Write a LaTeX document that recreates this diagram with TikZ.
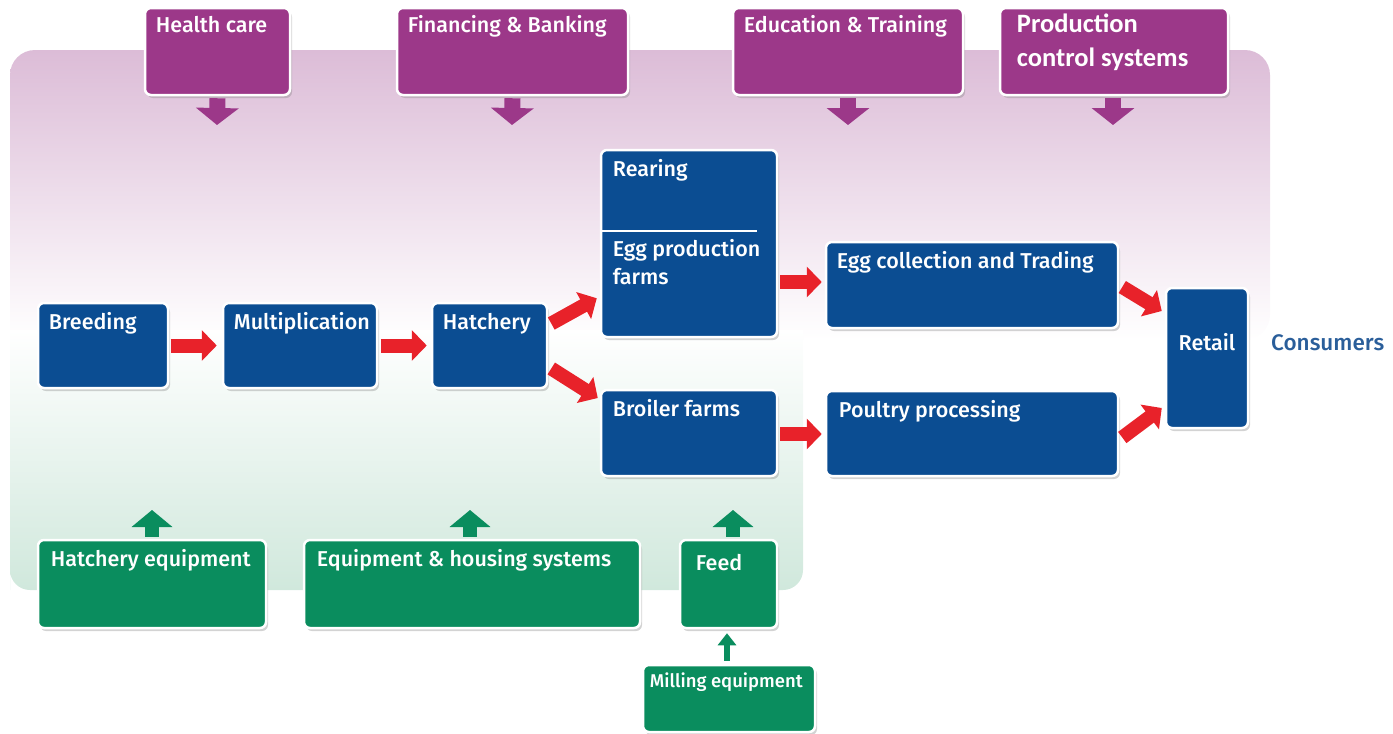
\documentclass[tikz,border=0pt]{standalone}
\usepackage{fontspec}
\setmainfont{Fira Sans}[BoldFont={Fira Sans Medium}]
\newfontfamily\calfont{Carlito}[BoldFont={Carlito Bold}]
\usetikzlibrary{shadows,arrows.meta}
\definecolor{cblue}{HTML}{0B4D92}
\definecolor{cpurple}{HTML}{9C3889}
\definecolor{cgreen}{HTML}{0A8D5E}
\definecolor{cred}{HTML}{E8222A}
\definecolor{ccons}{HTML}{2A5E9A}
\definecolor{bgpurple}{HTML}{DCBCD7}
\definecolor{bggreen}{HTML}{D0E8DC}
\begin{document}
\begin{tikzpicture}[x=1pt,y=-1pt,
  box/.style={draw=white, line width=2.5pt, rounded corners=6pt, inner sep=0pt,
    drop shadow={opacity=0.35, shadow xshift=2pt, shadow yshift=-3pt}},
  bbox/.style={box, fill=cblue},
  pbox/.style={box, fill=cpurple},
  gbox/.style={box, fill=cgreen},
  lbl/.style={text=white, anchor=base west, inner sep=0pt, font=\bfseries\fontsize{21.5}{25}\selectfont},
  redarr/.style={draw=cred, line width=14pt, -{Triangle[width=30pt,length=15pt]}},
  purarr/.style={draw=cpurple, line width=16pt, -{Triangle[width=42pt,length=17pt]}},
  grnarr/.style={draw=cgreen, line width=14pt, -{Triangle[width=40pt,length=17pt]}},
  thinarr/.style={draw=cgreen, line width=6pt, -{Triangle[width=18pt,length=12pt]}}
]
\useasboundingbox (0,0) rectangle (1393,734);
% backgrounds
\shade[top color=bgpurple, bottom color=white, rounded corners=25pt]
  (10,340) -- (10,50) -- (1270,50) -- (1270,340) [sharp corners]-- cycle;
\shade[top color=white, bottom color=bggreen, rounded corners=20pt]
  (10,330) [sharp corners]-- (10,590) [rounded corners=20pt]-- (10,590) -- (803,590) [sharp corners]-- (803,330) -- cycle;

% purple boxes
\node[pbox, minimum width=145pt, minimum height=87pt] (hc) at (217.5,51.5) {};
\node[pbox, minimum width=231pt, minimum height=87pt] (fin) at (512.5,51.5) {};
\node[pbox, minimum width=230pt, minimum height=87pt] (edu) at (848,51.5) {};
\node[pbox, minimum width=228pt, minimum height=87pt] (pcs) at (1114,51.5) {};
\node[lbl] (hcT) at ([xshift=12pt,yshift=-26pt]hc.north west) {Health care};
\node[lbl] (finT) at ([xshift=12pt,yshift=-26pt]fin.north west) {Financing \& Banking};
\node[lbl] (eduT) at ([xshift=12pt,yshift=-26pt]edu.north west) {Education \& Training};
\node[lbl, font=\calfont\bfseries\fontsize{26.5}{30}\selectfont] (pcsT1) at ([xshift=18pt,yshift=-26pt]pcs.north west) {Production};
\node[lbl, font=\calfont\bfseries\fontsize{26.5}{30}\selectfont] (pcsT2) at ([xshift=18pt,yshift=-60pt]pcs.north west) {control systems};

% blue boxes
\node[bbox, minimum width=130pt, minimum height=85pt] (breed) at (103,345.5) {};
\node[bbox, minimum width=154pt, minimum height=85pt] (mult) at (300,345.5) {};
\node[bbox, minimum width=115pt, minimum height=85pt] (hatch) at (489.5,345.5) {};
\node[bbox, minimum width=176pt, minimum height=187pt] (rear) at (689,243.5) {};
\node[bbox, minimum width=176pt, minimum height=86pt] (broil) at (689,433) {};
\node[bbox, minimum width=292pt, minimum height=86pt] (egg) at (972,285) {};
\node[bbox, minimum width=292pt, minimum height=85pt] (poul) at (972,433.5) {};
\node[bbox, minimum width=82pt, minimum height=140pt] (retail) at (1207,358) {};
\coordinate (sepL) at ([xshift=2pt,yshift=-82pt]rear.north west);
\coordinate (sepR) at ([xshift=-21pt,yshift=-82pt]rear.north east);
\draw[white, line width=2pt] (sepL) -- (sepR);

\node[lbl] (breedT) at ([xshift=12pt,yshift=-28pt]breed.north west) {Breeding};
\node[lbl] (multT) at ([xshift=12pt,yshift=-28pt]mult.north west) {Multiplication};
\node[lbl] (hatchT) at ([xshift=12pt,yshift=-28pt]hatch.north west) {Hatchery};
\node[lbl] (rearT) at ([xshift=13pt,yshift=-28pt]rear.north west) {Rearing};
\node[lbl] (eggpT1) at ([xshift=13pt,yshift=-108pt]rear.north west) {Egg production};
\node[lbl] (eggpT2) at ([xshift=13pt,yshift=-136pt]rear.north west) {farms};
\node[lbl] (broilT) at ([xshift=13pt,yshift=-28pt]broil.north west) {Broiler farms};
\node[lbl] (eggT) at ([xshift=12pt,yshift=-28pt]egg.north west) {Egg collection and Trading};
\node[lbl] (poulT) at ([xshift=14pt,yshift=-28pt]poul.north west) {Poultry processing};
\node[lbl, anchor=base] (retailT) at (1207,350) {Retail};
\node[lbl, text=ccons, anchor=base west, font=\bfseries\fontsize{22.5}{26}\selectfont] (cons) at (1271,350) {Consumers};

% green boxes
\node[gbox, minimum width=228pt, minimum height=88pt] (heq) at (152,584) {};
\node[gbox, minimum width=336pt, minimum height=88pt] (ehs) at (472,584) {};
\node[gbox, minimum width=97pt, minimum height=88pt] (feed) at (728.5,584) {};
\node[gbox, minimum width=172pt, minimum height=67pt] (mill) at (729,698.5) {};
\node[lbl] (heqT) at ([xshift=14pt,yshift=-28pt]heq.north west) {Hatchery equipment};
\node[lbl] (ehsT) at ([xshift=14pt,yshift=-28pt]ehs.north west) {Equipment \& housing systems};
\node[lbl] (feedT) at ([xshift=17pt,yshift=-32pt]feed.north west) {Feed};
\node[lbl, font=\bfseries\fontsize{18.5}{22}\selectfont] (millT) at ([xshift=8pt,yshift=-24pt]mill.north west) {Milling equipment};

% purple arrows
\coordinate (hcA) at (217,125);
\coordinate (finA) at (512,125);
\coordinate (eduA) at (848,125);
\coordinate (pcsA) at (1113,125);
\draw[purarr] ([yshift=-2pt]hc.south) -- (hcA);
\draw[purarr] ([yshift=-2pt]fin.south) -- (finA);
\draw[purarr] ([yshift=-2pt]edu.south) -- (eduA);
\draw[purarr] ([xshift=-1pt,yshift=-2pt]pcs.south) -- (pcsA);

% green arrows
\coordinate (heqA) at (152,510);
\coordinate (ehsA) at (470,510);
\coordinate (feedA) at (733,510);
\draw[grnarr] ([yshift=2pt]heq.north) -- (heqA);
\draw[grnarr] ([xshift=-2pt,yshift=2pt]ehs.north) -- (ehsA);
\draw[grnarr] ([xshift=4.5pt,yshift=2pt]feed.north) -- (feedA);
\draw[thinarr] ([xshift=-2pt,yshift=3pt]mill.north) -- ([xshift=-1.5pt,yshift=-4pt]feed.south);

% red arrows
\draw[redarr] ([xshift=2pt]breed.east) -- ([xshift=-5pt]mult.west);
\draw[redarr] ([xshift=3pt]mult.east) -- ([xshift=-4pt]hatch.west);
\draw[redarr] ([xshift=3pt,yshift=22pt]hatch.east) -- ([xshift=-3pt,yshift=40pt]rear.south west);
\draw[redarr] ([xshift=3pt,yshift=-23pt]hatch.east) -- ([xshift=-2pt,yshift=35pt]broil.west);
\draw[redarr] ([xshift=2pt,yshift=-38.5pt]rear.east) -- ([xshift=-3pt,yshift=3pt]egg.west);
\draw[redarr] ([xshift=2pt,yshift=-1pt]broil.east) -- ([xshift=-3pt,yshift=-0.5pt]poul.west);
\draw[redarr] ([xshift=3pt,yshift=-2pt]egg.east) -- ([xshift=-3pt,yshift=47pt]retail.west);
\draw[redarr] ([xshift=3pt,yshift=-4pt]poul.east) -- ([xshift=-3pt,yshift=-50pt]retail.west);
\end{tikzpicture}
\end{document}
